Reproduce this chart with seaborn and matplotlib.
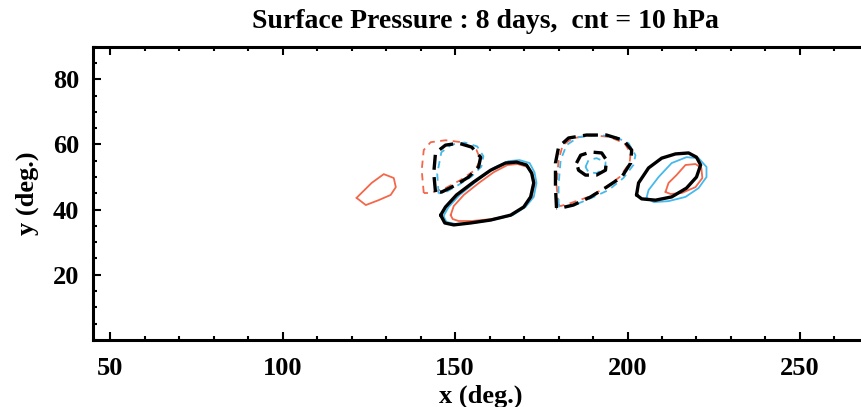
import matplotlib
matplotlib.use("Agg")
import matplotlib.pyplot as plt
import matplotlib.ticker as ticker
import seaborn as sns

# contour outlines (x, y in degrees)
red_low_x = [121.4, 125.8, 129.3, 132.2, 132.8, 131.3, 127.8, 124.1]
red_low_y = [43.6, 48.2, 50.9, 49.7, 46.9, 44.5, 42.9, 41.4]

black_trough1_x = [144.3, 143.8, 144.3, 147.2, 151.0, 154.8, 157.4, 156.8, 153.9, 150.1, 146.1]
black_trough1_y = [45.4, 51.2, 57.4, 59.8, 60.4, 59.2, 56.1, 53.1, 50.0, 47.5, 45.4]
cyan_trough1_x = [145.2, 144.8, 146.0, 149.0, 152.8, 156.4, 158.2, 157.6, 154.8, 151.0, 147.0]
cyan_trough1_y = [45.0, 51.0, 57.6, 60.0, 60.6, 59.4, 56.4, 53.2, 50.2, 47.6, 45.2]
red_trough1_x = [140.9, 140.3, 140.9, 142.9, 147.2, 151.9, 156.2, 157.4, 155.7, 151.6, 147.2, 142.9]
red_trough1_y = [45.1, 52.1, 58.3, 60.7, 61.3, 60.7, 58.3, 55.2, 52.1, 49.1, 46.6, 45.1]

black_ridge1_x = [145.8, 147.2, 150.4, 155.4, 160.3, 164.6, 167.8, 170.7, 172.2, 172.8, 171.9, 169.9,
                  166.1, 160.3, 154.5, 149.6, 147.0]
black_ridge1_y = [38.3, 40.8, 44.5, 48.5, 52.1, 54.3, 54.6, 53.7, 51.2, 48.2, 43.9, 40.8,
                  38.3, 36.8, 35.9, 35.3, 35.9]
cyan_ridge1_x = [146.6, 148.1, 151.3, 156.3, 161.2, 165.5, 168.7, 171.6, 173.0, 173.6, 172.8, 170.4,
                 166.7, 160.9, 155.1, 150.1, 147.5]
cyan_ridge1_y = [38.0, 40.8, 44.5, 48.8, 52.8, 54.9, 55.2, 54.3, 51.5, 48.2, 43.9, 40.8,
                 38.3, 36.8, 35.9, 35.6, 36.2]
red_ridge1_x = [148.7, 149.6, 152.5, 156.9, 161.2, 165.2, 168.1, 171.0, 172.5, 173.0, 172.2, 170.1,
                166.4, 160.6, 154.8, 151.0, 149.3]
red_ridge1_y = [38.3, 41.1, 44.5, 48.2, 51.5, 53.7, 54.0, 53.1, 50.6, 47.5, 43.9, 40.8,
                38.3, 37.1, 36.5, 36.5, 37.1]

black_trough2_x = [179.4, 179.1, 179.1, 180.0, 182.9, 188.1, 193.9, 198.8, 201.2, 200.9, 198.3, 193.9, 189.3, 184.3, 180.6]
black_trough2_y = [40.5, 46.9, 54.3, 59.2, 62.0, 62.9, 62.9, 61.3, 58.3, 54.3, 50.0, 46.9, 43.9, 41.4, 40.5]
cyan_trough2_x = [180.0, 180.0, 180.6, 182.3, 185.8, 191.6, 196.5, 200.3, 202.3, 201.7, 198.8, 194.5, 189.6, 184.6, 180.9]
cyan_trough2_y = [41.1, 47.5, 55.2, 59.8, 62.3, 62.9, 62.3, 60.4, 56.7, 53.7, 49.7, 46.0, 43.6, 41.4, 40.5]
red_trough2_x = [180.0, 179.4, 180.0, 181.2, 184.1, 189.6, 194.8, 199.1, 200.9, 200.6, 197.7, 193.4, 188.7, 183.5, 180.6]
red_trough2_y = [41.4, 47.5, 55.2, 59.8, 61.9, 62.9, 62.3, 60.4, 57.4, 54.3, 50.0, 46.6, 43.9, 42.0, 41.1]

black_inner_x = [185.2, 186.4, 189.3, 192.5, 193.9, 193.6, 191.0, 187.8, 185.8]
black_inner_y = [54.3, 56.7, 57.7, 57.4, 55.2, 52.1, 50.6, 50.6, 52.1]
cyan_inner_x = [187.8, 188.7, 191.0, 193.6, 193.6, 191.0, 188.7]
cyan_inner_y = [53.1, 55.2, 55.8, 54.6, 52.8, 51.2, 51.5]

black_ridge2_x = [202.6, 203.2, 206.1, 209.9, 213.9, 217.7, 220.0, 221.2, 220.0, 217.1, 212.8, 208.1, 204.1]
black_ridge2_y = [44.5, 48.2, 52.8, 55.8, 57.1, 57.4, 56.1, 53.7, 50.0, 46.6, 43.9, 42.9, 43.3]
cyan_ridge2_x = [205.5, 206.1, 209.0, 212.8, 217.1, 220.6, 222.9, 222.9, 220.6, 216.8, 211.9, 207.6]
cyan_ridge2_y = [43.6, 46.0, 50.0, 54.3, 56.1, 55.8, 53.1, 50.0, 46.6, 43.9, 42.6, 42.3]
red_ridge2_x = [211.0, 211.9, 214.2, 216.8, 219.7, 221.4, 221.7, 219.7, 215.7, 212.5]
red_ridge2_y = [45.4, 48.2, 50.6, 53.7, 54.0, 52.8, 49.7, 46.9, 45.1, 44.8]

x_ticks = [50, 100, 150, 200, 250]
y_ticks = [20, 40, 60, 80]

RED = "#f4674a"
CYAN = "#45b9ec"
BLACK = "#000000"

sns.set_style("ticks")
plt.rcParams['font.family'] = ['Liberation Serif', 'DejaVu Serif']
plt.rcParams['font.weight'] = 'bold'
for key in ['text.color', 'axes.labelcolor', 'xtick.color', 'ytick.color', 'axes.edgecolor']:
    plt.rcParams[key] = 'black'

fig = plt.figure(figsize=(8.62, 4.07), dpi=100)
ax = fig.add_axes([0.108, 0.165, 0.9, 0.72])


def loop(xs, ys, color, lw, dashed=False):
    xs = list(xs) + [xs[0]]
    ys = list(ys) + [ys[0]]
    line = sns.lineplot(x=xs, y=ys, sort=False, estimator=None, color=color, lw=lw, ax=ax)
    ln = line.lines[-1]
    ln.set_solid_joinstyle('round')
    ln.set_dash_joinstyle('round')
    if dashed:
        ln.set_dashes([4.5, 2.2] if lw > 2 else [4, 3])


# red, then cyan, then black on top
loop(red_low_x, red_low_y, RED, 1.3)
loop(red_trough1_x, red_trough1_y, RED, 1.3, dashed=True)
loop(red_ridge1_x, red_ridge1_y, RED, 1.3)
loop(red_trough2_x, red_trough2_y, RED, 1.3, dashed=True)
loop(red_ridge2_x, red_ridge2_y, RED, 1.3)

loop(cyan_trough1_x, cyan_trough1_y, CYAN, 1.3, dashed=True)
loop(cyan_ridge1_x, cyan_ridge1_y, CYAN, 1.3)
loop(cyan_trough2_x, cyan_trough2_y, CYAN, 1.3, dashed=True)
loop(cyan_inner_x, cyan_inner_y, CYAN, 1.3, dashed=True)
loop(cyan_ridge2_x, cyan_ridge2_y, CYAN, 1.3)

loop(black_trough1_x, black_trough1_y, BLACK, 2.4, dashed=True)
loop(black_ridge1_x, black_ridge1_y, BLACK, 2.4)
loop(black_trough2_x, black_trough2_y, BLACK, 2.4, dashed=True)
loop(black_inner_x, black_inner_y, BLACK, 2.4, dashed=True)
loop(black_ridge2_x, black_ridge2_y, BLACK, 2.4)

ax.set_xlim(45, 270)
ax.set_ylim(0, 90)
ax.set_xticks(x_ticks)
ax.set_yticks(y_ticks)
ax.xaxis.set_minor_locator(ticker.MultipleLocator(10))
ax.yaxis.set_minor_locator(ticker.MultipleLocator(5))
ax.tick_params(which='both', direction='in', top=True, right=True, width=1.5, colors='black')
ax.tick_params(which='major', length=6, labelsize=19)
ax.tick_params(axis='x', which='major', pad=12)
ax.tick_params(axis='y', which='major', pad=10)
ax.tick_params(which='minor', length=3)
for s in ax.spines.values():
    s.set_linewidth(2.2)
    s.set_color('black')
for lab in ax.get_xticklabels() + ax.get_yticklabels():
    lab.set_fontweight('bold')

ax.set_xlabel('x (deg.)', fontsize=19, fontweight='bold', labelpad=4, color='black')
ax.set_ylabel('y (deg.)', fontsize=19, fontweight='bold', labelpad=10, color='black')
fig.text(0.563, 0.946, 'Surface Pressure : 8 days,  cnt = 10 hPa', ha='center', va='center',
         fontsize=20, fontweight='bold', color='black')

fig.savefig('out.png', dpi=100)
